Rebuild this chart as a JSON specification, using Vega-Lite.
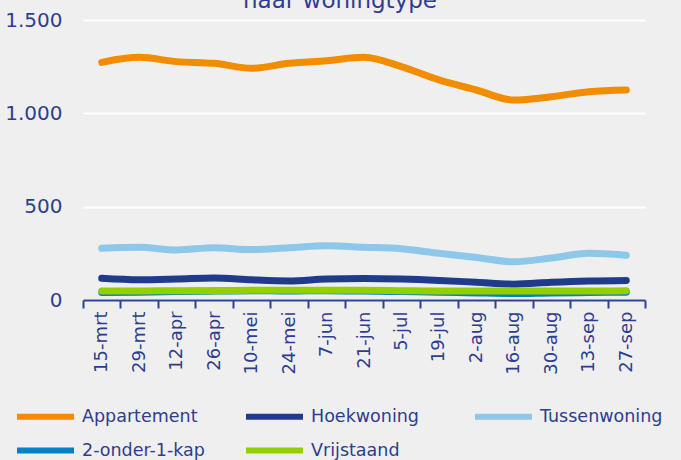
{
  "$schema": "https://vega.github.io/schema/vega-lite/v6.json",
  "autosize": "none",
  "width": 562,
  "height": 280,
  "padding": {"left": 83, "top": 20, "right": 36, "bottom": 160},
  "background": "#EFEFEF",
  "title": {"text": "naar woningtype", "fontSize": 23, "font": "DejaVu Sans", "fontWeight": "normal", "color": "#2E3D8F", "anchor": "middle", "dx": -24, "offset": 0, "dy": 3},
  "config": {"view": {"stroke": null}, "font": "DejaVu Sans"},
  "data": {"values": [
    {"d":"15-mrt","s":"Appartement","v":1273},{"d":"29-mrt","s":"Appartement","v":1300},{"d":"12-apr","s":"Appartement","v":1277},{"d":"26-apr","s":"Appartement","v":1268},{"d":"10-mei","s":"Appartement","v":1241},{"d":"24-mei","s":"Appartement","v":1268},{"d":"7-jun","s":"Appartement","v":1282},{"d":"21-jun","s":"Appartement","v":1300},{"d":"5-jul","s":"Appartement","v":1250},{"d":"19-jul","s":"Appartement","v":1179},{"d":"2-aug","s":"Appartement","v":1125},{"d":"16-aug","s":"Appartement","v":1071},{"d":"30-aug","s":"Appartement","v":1089},{"d":"13-sep","s":"Appartement","v":1116},{"d":"27-sep","s":"Appartement","v":1125},
    {"d":"15-mrt","s":"Hoekwoning","v":116},{"d":"29-mrt","s":"Hoekwoning","v":108},{"d":"12-apr","s":"Hoekwoning","v":112},{"d":"26-apr","s":"Hoekwoning","v":118},{"d":"10-mei","s":"Hoekwoning","v":108},{"d":"24-mei","s":"Hoekwoning","v":102},{"d":"7-jun","s":"Hoekwoning","v":112},{"d":"21-jun","s":"Hoekwoning","v":115},{"d":"5-jul","s":"Hoekwoning","v":112},{"d":"19-jul","s":"Hoekwoning","v":105},{"d":"2-aug","s":"Hoekwoning","v":95},{"d":"16-aug","s":"Hoekwoning","v":85},{"d":"30-aug","s":"Hoekwoning","v":95},{"d":"13-sep","s":"Hoekwoning","v":102},{"d":"27-sep","s":"Hoekwoning","v":105},
    {"d":"15-mrt","s":"Tussenwoning","v":277},{"d":"29-mrt","s":"Tussenwoning","v":282},{"d":"12-apr","s":"Tussenwoning","v":268},{"d":"26-apr","s":"Tussenwoning","v":280},{"d":"10-mei","s":"Tussenwoning","v":270},{"d":"24-mei","s":"Tussenwoning","v":280},{"d":"7-jun","s":"Tussenwoning","v":290},{"d":"21-jun","s":"Tussenwoning","v":283},{"d":"5-jul","s":"Tussenwoning","v":275},{"d":"19-jul","s":"Tussenwoning","v":250},{"d":"2-aug","s":"Tussenwoning","v":228},{"d":"16-aug","s":"Tussenwoning","v":205},{"d":"30-aug","s":"Tussenwoning","v":225},{"d":"13-sep","s":"Tussenwoning","v":250},{"d":"27-sep","s":"Tussenwoning","v":240},
    {"d":"15-mrt","s":"2-onder-1-kap","v":40},{"d":"29-mrt","s":"2-onder-1-kap","v":42},{"d":"12-apr","s":"2-onder-1-kap","v":45},{"d":"26-apr","s":"2-onder-1-kap","v":48},{"d":"10-mei","s":"2-onder-1-kap","v":50},{"d":"24-mei","s":"2-onder-1-kap","v":48},{"d":"7-jun","s":"2-onder-1-kap","v":50},{"d":"21-jun","s":"2-onder-1-kap","v":48},{"d":"5-jul","s":"2-onder-1-kap","v":45},{"d":"19-jul","s":"2-onder-1-kap","v":42},{"d":"2-aug","s":"2-onder-1-kap","v":38},{"d":"16-aug","s":"2-onder-1-kap","v":35},{"d":"30-aug","s":"2-onder-1-kap","v":38},{"d":"13-sep","s":"2-onder-1-kap","v":40},{"d":"27-sep","s":"2-onder-1-kap","v":42},
    {"d":"15-mrt","s":"Vrijstaand","v":48},{"d":"29-mrt","s":"Vrijstaand","v":48},{"d":"12-apr","s":"Vrijstaand","v":50},{"d":"26-apr","s":"Vrijstaand","v":50},{"d":"10-mei","s":"Vrijstaand","v":52},{"d":"24-mei","s":"Vrijstaand","v":52},{"d":"7-jun","s":"Vrijstaand","v":52},{"d":"21-jun","s":"Vrijstaand","v":52},{"d":"5-jul","s":"Vrijstaand","v":50},{"d":"19-jul","s":"Vrijstaand","v":48},{"d":"2-aug","s":"Vrijstaand","v":48},{"d":"16-aug","s":"Vrijstaand","v":48},{"d":"30-aug","s":"Vrijstaand","v":48},{"d":"13-sep","s":"Vrijstaand","v":48},{"d":"27-sep","s":"Vrijstaand","v":50}
  ]},
  "mark": {"type": "line", "interpolate": "monotone", "strokeWidth": 7, "strokeCap": "round"},
  "encoding": {
    "x": {"field": "d", "type": "nominal", "sort": null,
      "scale": {"paddingInner": 0, "paddingOuter": 0},
      "axis": {"title": null, "labelAngle": -90, "labelFontSize": 18, "labelColor": "#2E3D8F", "labelPadding": 3,
        "domainColor": "#2E4192", "domainWidth": 2, "tickColor": "#2E4192", "tickWidth": 2, "tickSize": 8, "tickBand": "extent", "grid": false}},
    "y": {"field": "v", "type": "quantitative",
      "scale": {"domain": [0, 1500], "nice": false},
      "axis": {"title": null, "values": [0, 500, 1000, 1500], "labelExpr": "replace(format(datum.value, ','), ',', '.')",
        "labelFontSize": 20, "labelColor": "#2E3D8F", "labelPadding": 21, "domain": false, "ticks": false,
        "gridColor": "#FFFFFF", "gridWidth": 2}},
    "color": {"field": "s", "type": "nominal",
      "scale": {"domain": ["Appartement", "Hoekwoning", "Tussenwoning", "2-onder-1-kap", "Vrijstaand"],
        "range": ["#F28C00", "#203A8C", "#8DC8EA", "#0082C8", "#92D000"]},
      "legend": {"title": null, "orient": "none", "legendX": -55, "legendY": 379, "direction": "horizontal", "columns": 3,
        "gridAlign": "all", "columnPadding": 29, "rowPadding": 4,
        "symbolType": "M-2,0H2", "symbolSize": 812, "symbolStrokeWidth": 6, "symbolStrokeCap": "round", "labelFontSize": 17.5, "labelColor": "#2E3D8F", "labelOffset": 19, "labelLimit": 300}}
  }
}
